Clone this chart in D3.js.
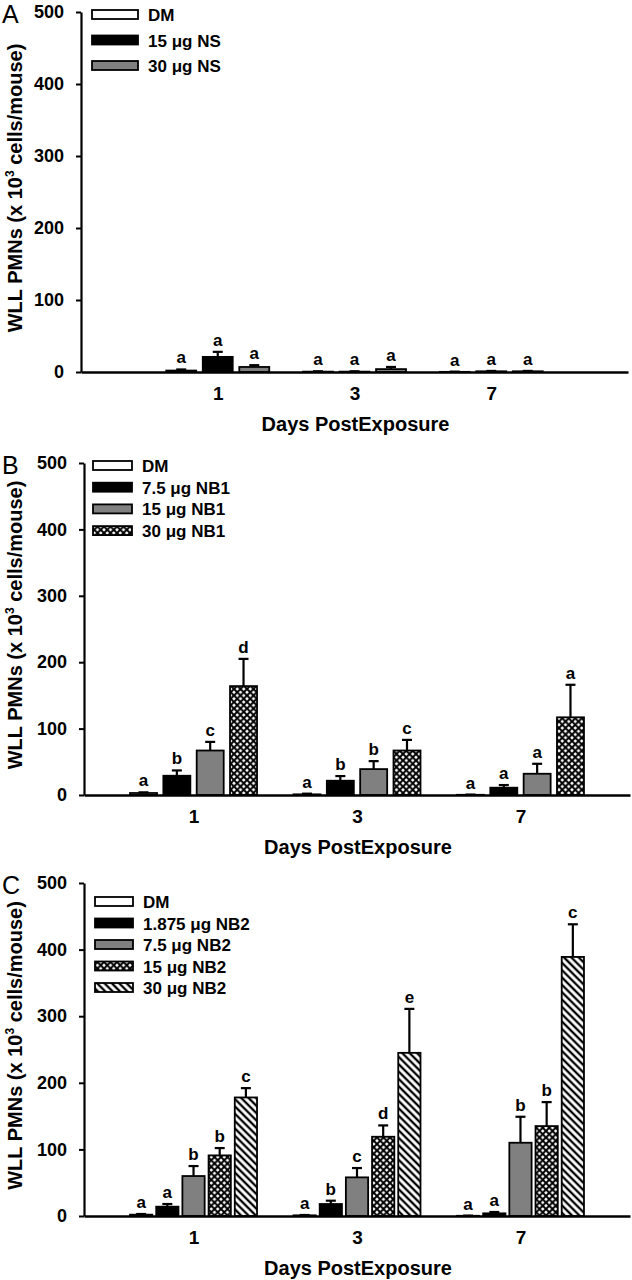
<!DOCTYPE html>
<html>
<head>
<meta charset="utf-8">
<script src="https://cdnjs.cloudflare.com/ajax/libs/d3/7.8.5/d3.min.js"></script>
<style>
  html, body { margin: 0; padding: 0; background: #fff; }
  svg { display: block; }
  text { font-family: "Liberation Sans", Arial, sans-serif; fill: #000; }
</style>
</head>
<body>
<svg id="chart" width="632" height="1280"></svg>
<script>
// ---------------- DATA ----------------
const days = ["1", "3", "7"];
const yTicks = [0, 100, 200, 300, 400, 500];
const panelLetters = ["A", "B", "C"];
const xTitle = "Days PostExposure";

const seriesA = ["DM", "15 μg NS", "30 μg NS"];
const meansA = [[2, 0.5, 0.2], [21, 0.5, 1], [7, 4, 1]];
const errsA = [[1.5, 0.5, 0.3], [7, 0.5, 0.5], [2.5, 3, 0.5]];
const lettersA = [["a", "a", "a"], ["a", "a", "a"], ["a", "a", "a"]];

const seriesB = ["DM", "7.5 μg NB1", "15 μg NB1", "30 μg NB1"];
const meansB = [[3, 1, 0.3], [29, 21.5, 11], [67, 39, 32], [164, 67, 117]];
const errsB = [[1, 1, 0.3], [8, 7, 4], [13, 12, 15], [41, 16, 49]];
const lettersB = [["a", "a", "a"], ["b", "b", "a"], ["c", "b", "a"], ["d", "c", "a"]];

const seriesC = ["DM", "1.875 μg NB2", "7.5 μg NB2", "15 μg NB2", "30 μg NB2"];
const meansC = [[2, 1, 0.3], [14, 18, 4], [60, 58, 110], [91, 119, 135], [178, 245, 389]];
const errsC = [[1, 0.5, 0.3], [4, 5, 2], [15, 14, 39], [11, 17, 36], [14, 66, 49]];
const lettersC = [["a", "a", "a"], ["a", "b", "a"], ["b", "c", "b"], ["b", "d", "b"], ["c", "e", "c"]];

// ---------------- STYLE / LAYOUT ----------------
const fillStyles = ["#ffffff", "#000000", "#808080", "url(#cross)", "url(#hatch)"];

const layouts = [
  { top: 12, bottom: 372, left: 81, right: 628, pad: 1, groupW: 103, pInner: 0.18,
    legX: 92, legW: 46, legY0: -2, legPitch: 25.5, legTextX: 148, letterY: 23 },
  { top: 463, bottom: 795, left: 84, right: 630, pad: 0.67, groupW: 127, pInner: 0.19,
    legX: 93, legW: 39, legY0: -2, legPitch: 21.7, legTextX: 142, letterY: 474 },
  { top: 883, bottom: 1216, left: 84, right: 630, pad: 0.67, groupW: 127, pInner: 0.15,
    legX: 95, legW: 38, legY0: 14, legPitch: 21.5, legTextX: 143, letterY: 894 }
];

const panels = [
  { series: seriesA, means: meansA, errs: errsA, letters: lettersA },
  { series: seriesB, means: meansB, errs: errsB, letters: lettersB },
  { series: seriesC, means: meansC, errs: errsC, letters: lettersC }
];

const svg = d3.select("#chart");
const defs = svg.append("defs");

// crosshatch (lattice with white diamonds)
const cross = defs.append("pattern").attr("id", "cross")
  .attr("patternUnits", "userSpaceOnUse").attr("width", 6.5).attr("height", 6.5);
cross.append("rect").attr("width", 6.5).attr("height", 6.5).attr("fill", "#fff");
cross.append("path").attr("d", "M0,0L6.5,6.5M6.5,0L0,6.5")
  .attr("stroke", "#000").attr("stroke-width", 2);

// diagonal hatch "\\\\"
const hatch = defs.append("pattern").attr("id", "hatch")
  .attr("patternUnits", "userSpaceOnUse").attr("width", 5.2).attr("height", 5.2)
  .attr("patternTransform", "rotate(45)");
hatch.append("rect").attr("width", 5.2).attr("height", 5.2).attr("fill", "#fff");
hatch.append("line").attr("x1", 0).attr("x2", 5.2).attr("y1", 2.6).attr("y2", 2.6)
  .attr("stroke", "#000").attr("stroke-width", 2.3);

panels.forEach((p, pi) => {
  const L = layouts[pi];
  const g = svg.append("g");

  const y = d3.scaleLinear().domain([0, 500]).range([L.bottom, L.top]);
  const x = d3.scalePoint().domain(days).range([L.left, L.right]).padding(L.pad);
  const xs = d3.scaleBand().domain(d3.range(p.series.length))
    .range([-L.groupW / 2, L.groupW / 2]).paddingInner(L.pInner).paddingOuter(0);

  // panel letter
  g.append("text").attr("x", 2).attr("y", L.letterY)
    .attr("font-size", 25).text(panelLetters[pi]);

  // y axis
  const yAxis = d3.axisLeft(y).tickValues(yTicks).tickSize(5).tickSizeOuter(0).tickPadding(12);
  const ya = g.append("g").attr("transform", `translate(${L.left},0)`).call(yAxis);
  ya.select(".domain").attr("stroke", "#000").attr("stroke-width", 2.2);
  ya.selectAll(".tick line").attr("stroke", "#000").attr("stroke-width", 2);
  ya.selectAll(".tick text").attr("font-size", 18).attr("font-weight", "bold")
    .attr("font-family", "Liberation Sans, Arial, sans-serif").attr("fill", "#000");

  // y label
  const yl = g.append("text")
    .attr("transform", `translate(22,${(L.top + L.bottom) / 2 - 4}) rotate(-90)`)
    .attr("text-anchor", "middle").attr("font-size", 20).attr("font-weight", "bold");
  yl.append("tspan").text("WLL PMNs (x 10");
  yl.append("tspan").attr("font-size", 12).attr("dy", -8).text("3");
  yl.append("tspan").attr("dy", 8).text(" cells/mouse)");

  // bars
  const flat = [];
  p.series.forEach((s, si) => days.forEach((d, di) => {
    flat.push({ si, d, v: p.means[si][di], e: p.errs[si][di], l: p.letters[si][di] });
  }));

  const bars = g.append("g");
  bars.selectAll("rect").data(flat).join("rect")
    .attr("x", d => x(d.d) + xs(d.si))
    .attr("width", xs.bandwidth())
    .attr("y", d => y(d.v))
    .attr("height", d => y(0) - y(d.v))
    .attr("fill", d => fillStyles[d.si])
    .attr("stroke", "#000").attr("stroke-width", 1.8);

  // error bars
  const eb = g.append("g").attr("stroke", "#000").attr("stroke-width", 2.2);
  eb.selectAll("line.v").data(flat).join("line").attr("class", "v")
    .attr("x1", d => x(d.d) + xs(d.si) + xs.bandwidth() / 2)
    .attr("x2", d => x(d.d) + xs(d.si) + xs.bandwidth() / 2)
    .attr("y1", d => y(d.v)).attr("y2", d => y(d.v + d.e));
  eb.selectAll("line.c").data(flat).join("line").attr("class", "c")
    .attr("x1", d => x(d.d) + xs(d.si) + xs.bandwidth() / 2 - 5)
    .attr("x2", d => x(d.d) + xs(d.si) + xs.bandwidth() / 2 + 5)
    .attr("y1", d => y(d.v + d.e)).attr("y2", d => y(d.v + d.e));

  // significance letters
  g.append("g").selectAll("text").data(flat).join("text")
    .attr("x", d => x(d.d) + xs(d.si) + xs.bandwidth() / 2)
    .attr("y", d => y(d.v + d.e) - 6)
    .attr("text-anchor", "middle").attr("font-size", 17).attr("font-weight", "bold")
    .text(d => d.l);

  // x axis
  const xAxis = d3.axisBottom(x).tickSize(0).tickSizeOuter(0).tickPadding(15);
  const xa = g.append("g").attr("transform", `translate(0,${L.bottom})`).call(xAxis);
  xa.select(".domain").attr("stroke", "#000").attr("stroke-width", 2.5);
  xa.selectAll(".tick text").attr("font-size", 19).attr("font-weight", "bold")
    .attr("font-family", "Liberation Sans, Arial, sans-serif").attr("fill", "#000");

  g.append("text").attr("x", (L.left + L.right) / 2 + 1).attr("y", L.bottom + 59)
    .attr("text-anchor", "middle").attr("font-size", 20).attr("font-weight", "bold")
    .text(xTitle);

  // legend
  const lg = g.append("g");
  p.series.forEach((s, si) => {
    const yy = L.top + L.legY0 + si * L.legPitch;
    lg.append("rect").attr("x", L.legX).attr("y", yy).attr("width", L.legW).attr("height", 9)
      .attr("fill", fillStyles[si]).attr("stroke", "#000").attr("stroke-width", 1.8);
    lg.append("text").attr("x", L.legTextX).attr("y", yy + 11)
      .attr("font-size", 17).attr("font-weight", "bold").text(s);
  });
});
</script>
</body>
</html>
